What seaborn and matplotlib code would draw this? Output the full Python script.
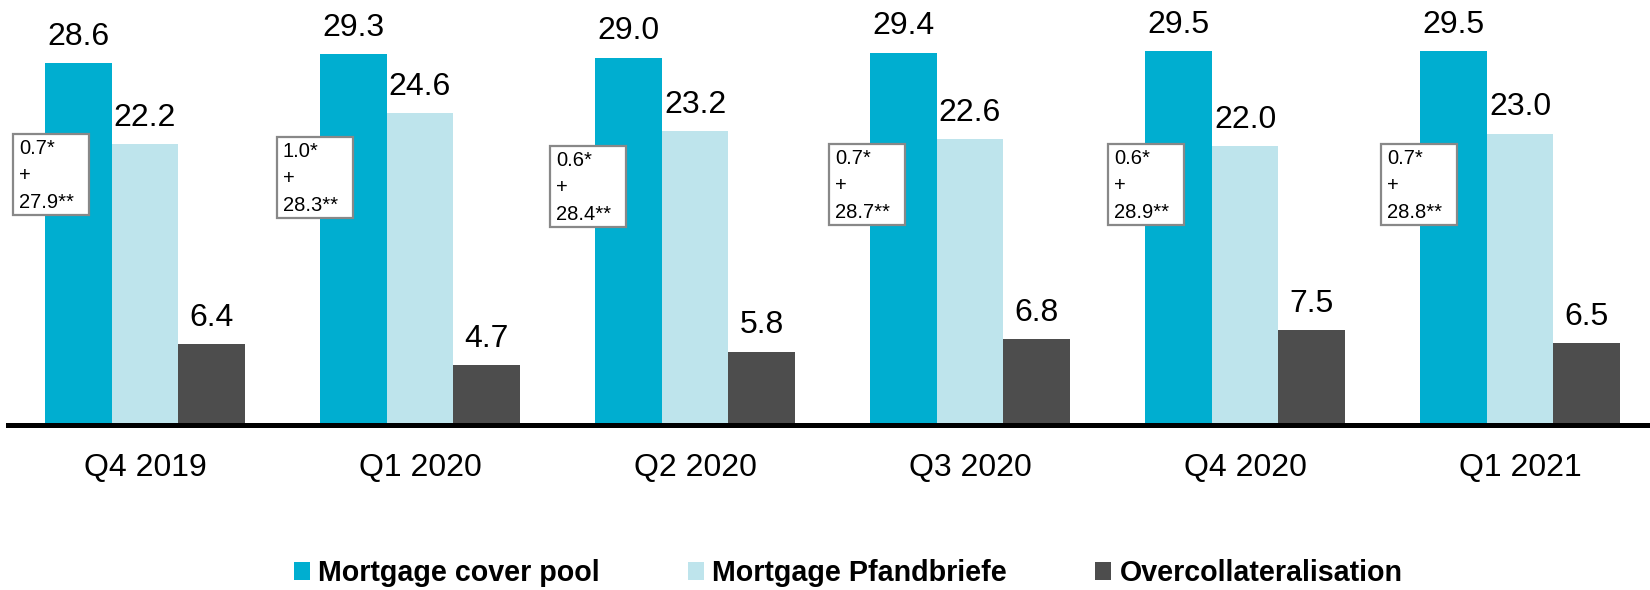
import matplotlib
matplotlib.use("Agg")
import matplotlib.pyplot as plt
import seaborn as sns
import pandas as pd
from matplotlib.patches import Rectangle

# ---- data ----
quarters = ["Q4 2019", "Q1 2020", "Q2 2020", "Q3 2020", "Q4 2020", "Q1 2021"]
cover_pool = [28.6, 29.3, 29.0, 29.4, 29.5, 29.5]
pfandbriefe = [22.2, 24.6, 23.2, 22.6, 22.0, 23.0]
overcollat = [6.4, 4.7, 5.8, 6.8, 7.5, 6.5]
part_a = ["0.7", "1.0", "0.6", "0.7", "0.6", "0.7"]
part_b = ["27.9", "28.3", "28.4", "28.7", "28.9", "28.8"]
series_names = ["Mortgage cover pool", "Mortgage Pfandbriefe", "Overcollateralisation"]
colors = ["#00AED0", "#BEE4EC", "#4D4D4D"]

# ---- layout of annotation boxes (data units relative to group) ----
box_dx = [-0.480, -0.520, -0.527, -0.513, -0.498, -0.505]
box_top = [22.97, 22.73, 22.02, 22.18, 22.18, 22.18]
box_w = 0.276
box_h = 6.39

df = pd.DataFrame({
    "quarter": quarters * 3,
    "series": [series_names[0]] * 6 + [series_names[1]] * 6 + [series_names[2]] * 6,
    "value": cover_pool + pfandbriefe + overcollat,
})

sns.set_theme(style="white")
plt.rcParams["font.family"] = ["Liberation Sans", "DejaVu Sans"]
plt.rcParams["text.color"] = "black"

W, H = 1650, 590
fig = plt.figure(figsize=(W / 100, H / 100), dpi=100)
ax = fig.add_axes([8 / W, 165 / H, 1642 / W, 425 / H])

sns.barplot(data=df, x="quarter", y="value", hue="series", order=quarters,
            hue_order=series_names, palette=colors, width=0.7275,
            saturation=1, linewidth=0, ax=ax, errorbar=None)

a = -(145 - 8) / 275
ax.set_xlim(a, a + 1642 / 275)
ax.set_ylim(0, 425 / 12.67)

for c in ax.containers:
    ax.bar_label(c, fmt="%.1f", padding=8, fontsize=23, color="black")

for s in ["top", "left", "right"]:
    ax.spines[s].set_visible(False)
ax.spines["bottom"].set_color("black")
ax.spines["bottom"].set_linewidth(3.6)
ax.spines["bottom"].set_zorder(5)
ax.set_yticks([])
ax.set_xlabel("")
ax.set_ylabel("")
ax.tick_params(axis="x", length=0, pad=20, labelsize=23, colors="black")

for i in range(len(quarters)):
    x0 = i + box_dx[i]
    y0 = box_top[i] - box_h
    ax.add_patch(Rectangle((x0, y0), box_w, box_h, facecolor="white",
                           edgecolor="#888888", linewidth=1.6, zorder=6))
    ax.text(x0 + 6 / 275, y0 + box_h / 2 - 0.1, f"{part_a[i]}*\n+\n{part_b[i]}**",
            ha="left", va="center", fontsize=14.5, linespacing=1.52,
            color="black", zorder=7)

handles, labels = ax.get_legend_handles_labels()
ax.legend(handles, labels, loc="center", bbox_to_anchor=(848 / W, 1 - 573 / H),
          bbox_transform=fig.transFigure, ncol=3, frameon=False, borderpad=0,
          handlelength=0.56, handleheight=0.56, handletextpad=0.28,
          columnspacing=3.1, labelcolor="black",
          prop={"weight": "bold", "size": 20.6})

fig.savefig("out.png", dpi=100)
